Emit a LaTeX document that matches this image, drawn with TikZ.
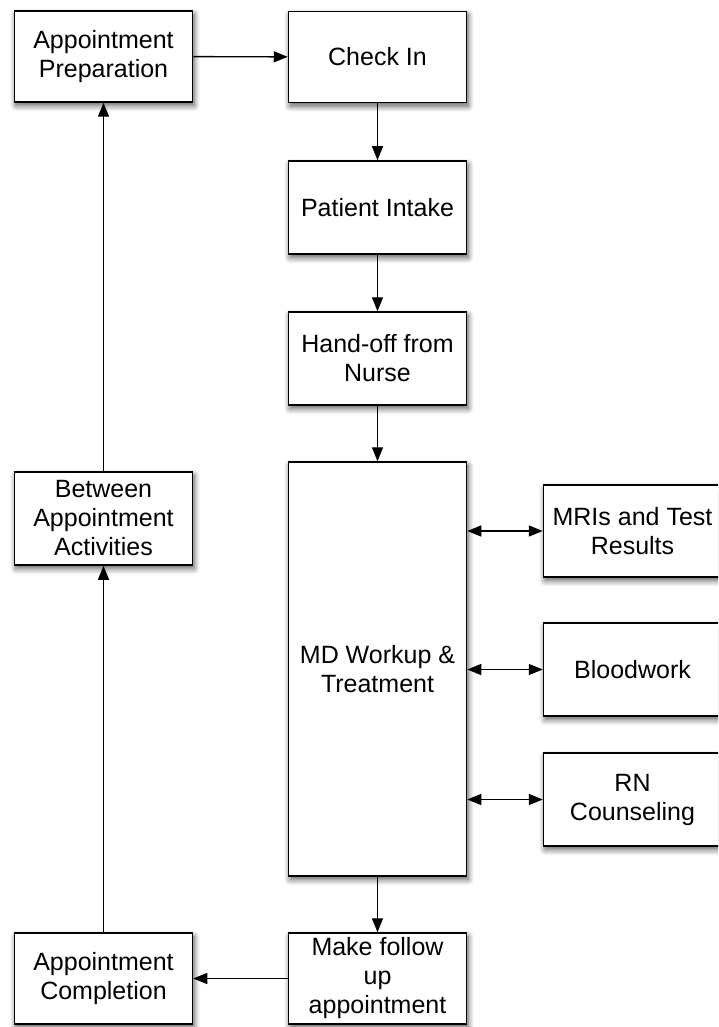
\documentclass[tikz,border=0pt]{standalone}
\usepackage{fontspec}
\setmainfont{Liberation Sans}
\usetikzlibrary{arrows.meta,shadows.blur}
\begin{document}
\begin{tikzpicture}[x=1pt,y=-1pt,
  box/.style={draw=black,line width=1.5pt,fill=white,minimum width=178pt,
    align=center,inner sep=0pt,font=\fontsize{25}{29}\selectfont,
    blur shadow={shadow xshift=1.5pt,shadow yshift=-3.5pt,shadow blur radius=6pt,shadow blur steps=8,shadow opacity=65}},
  tip/.tip={Triangle[length=14pt,width=11pt]},
  flow/.style={line width=1.4pt,-tip},
  both/.style={line width=1.4pt,tip-tip}]
\useasboundingbox (0,0) rectangle (718,1027);
\clip (0,0) rectangle (718,1027);
% left column
\node[box,minimum height=91pt] (prep) at (103.5,56.5) {Appointment\\Preparation};
\node[box,minimum height=93pt] (betw) at (103.5,518.5) {Between\\Appointment\\Activities};
\node[box,minimum height=91pt] (comp) at (103.5,978.5) {Appointment\\Completion};
% centre column
\node[box,minimum height=91pt] (chk) at (377.5,57) {Check In};
\node[box,minimum height=93pt] (intake) at (377.5,207.5) {Patient Intake};
\node[box,minimum height=93pt] (hand) at (377.5,358.5) {Hand-off from\\Nurse};
\node[box,minimum height=414pt] (md) at (377.5,669) {MD Workup \&\\Treatment};
\node[box,minimum height=91pt] (follow) at (377.5,978.5) {Make follow\\up\\appointment};
% right column
\node[box,minimum height=92pt] (mri) at (632.5,531) {MRIs and Test\\Results};
\node[box,minimum height=93pt] (blood) at (632.5,669.5) {Bloodwork};
\node[box,minimum height=93pt] (rn) at (632.5,799.5) {RN\\Counseling};
% connectors
\draw[flow] (prep) -- (chk);
\draw[flow] (chk) -- (intake);
\draw[flow] (intake) -- (hand);
\draw[flow] (hand) -- (md);
\draw[flow] (md) -- (follow);
\draw[flow] (follow) -- (comp);
\draw[flow] (comp) -- (betw);
\draw[flow] (betw) -- (prep);
\draw[both] (md.east |- mri) -- (mri);
\draw[both] (md.east |- blood) -- (blood);
\draw[both] (md.east |- rn) -- (rn);
\end{tikzpicture}
\end{document}
